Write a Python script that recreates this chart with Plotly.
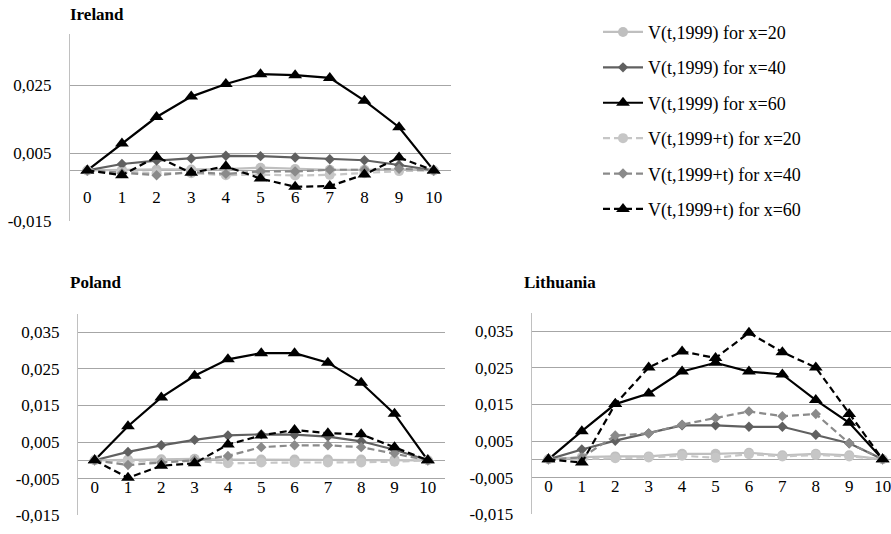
import plotly.graph_objects as go

t = list(range(11))

# Ireland
ie_v20 = [0, 0.0002, 0.0003, 0.0003, 0.0004, 0.0008, 0.0004, 0.0002, 0.0002, 0.0003, 0]
ie_v40 = [0, 0.0019, 0.0029, 0.0035, 0.0043, 0.0042, 0.0038, 0.0033, 0.0030, 0.0016, 0]
ie_v60 = [0, 0.0079, 0.0157, 0.0217, 0.0254, 0.0283, 0.0280, 0.0272, 0.0205, 0.0127, 0]
ie_v20t = [0, -0.0005, -0.0008, -0.0008, -0.0014, -0.0012, -0.0015, -0.0013, -0.0008, -0.0002, 0]
ie_v40t = [0, -0.0008, -0.0014, -0.0005, -0.0010, -0.0003, -0.0003, 0.0002, 0.0002, 0.0005, 0]
ie_v60t = [0, -0.0014, 0.0040, -0.0007, 0.0012, -0.0024, -0.0048, -0.0046, -0.0012, 0.0038, 0]

# Poland
pl_v20 = [0, 0.0002, 0.0003, 0.0004, 0.0002, 0.0002, 0.0002, 0.0002, 0.0002, 0.0002, 0]
pl_v40 = [0, 0.0023, 0.0041, 0.0056, 0.0068, 0.0071, 0.0070, 0.0065, 0.0052, 0.0029, 0]
pl_v60 = [0, 0.0093, 0.0172, 0.0231, 0.0276, 0.0293, 0.0293, 0.0267, 0.0212, 0.0127, 0]
pl_v20t = [0, -0.0003, -0.0003, -0.0002, -0.0008, -0.0006, -0.0006, -0.0006, -0.0006, -0.0004, 0]
pl_v40t = [0, -0.0013, -0.0006, 0.0000, 0.0012, 0.0036, 0.0041, 0.0041, 0.0036, 0.0019, 0]
pl_v60t = [0, -0.0048, -0.0015, -0.0008, 0.0043, 0.0068, 0.0083, 0.0074, 0.0071, 0.0036, 0]

# Lithuania
lt_v20 = [0, 0.0006, 0.0008, 0.0008, 0.0015, 0.0015, 0.0018, 0.0011, 0.0015, 0.0011, 0]
lt_v40 = [0, 0.0027, 0.0051, 0.0071, 0.0093, 0.0093, 0.0089, 0.0089, 0.0067, 0.0044, 0]
lt_v60 = [0, 0.0077, 0.0151, 0.0180, 0.0240, 0.0264, 0.0240, 0.0232, 0.0162, 0.0100, 0]
lt_v20t = [0, 0.0000, 0.0003, 0.0005, 0.0010, 0.0004, 0.0014, 0.0008, 0.0012, 0.0008, 0]
lt_v40t = [0, 0.0005, 0.0065, 0.0071, 0.0095, 0.0113, 0.0131, 0.0118, 0.0124, 0.0044, 0]
lt_v60t = [0, -0.0009, 0.0151, 0.0251, 0.0295, 0.0277, 0.0346, 0.0293, 0.0251, 0.0124, 0]

series_names = ["V(t,1999) for x=20", "V(t,1999) for x=40", "V(t,1999) for x=60",
                "V(t,1999+t) for x=20", "V(t,1999+t) for x=40", "V(t,1999+t) for x=60"]

panel_titles = ["Ireland", "Poland", "Lithuania"]

ie_ytickvals = [-0.015, 0.005, 0.025]
ie_yticktext = ["-0,015", "0,005", "0,025"]
pl_ytickvals = [-0.015, -0.005, 0.005, 0.015, 0.025, 0.035]
pl_yticktext = ["-0,015", "-0,005", "0,005", "0,015", "0,025", "0,035"]

FONT = "'Liberation Serif', 'Times New Roman', 'DejaVu Serif', serif"
W, H = 891, 534

styles = [
    dict(color="#bfbfbf", symbol="circle", size=10, dash="solid"),
    dict(color="#606060", symbol="diamond", size=8, dash="solid"),
    dict(color="#000000", symbol="triangle-up", size=12, dash="solid"),
    dict(color="#c6c6c6", symbol="circle", size=10, dash="7px,4px"),
    dict(color="#8a8a8a", symbol="diamond", size=8, dash="7px,4px"),
    dict(color="#000000", symbol="triangle-up", size=12, dash="7px,4px"),
]

panels = [
    dict(data=[ie_v20, ie_v40, ie_v60, ie_v20t, ie_v40t, ie_v60t],
         px=(70, 451), py=(35, 225.7), xr=[-0.5, 10.5],
         tv=ie_ytickvals, tt=ie_yticktext, title_xy=(68, 15)),
    dict(data=[pl_v20, pl_v40, pl_v60, pl_v20t, pl_v40t, pl_v60t],
         px=(78, 444.5), py=(320, 525), xr=[-0.5, 10.5],
         tv=pl_ytickvals, tt=pl_yticktext, title_xy=(68, 288)),
    dict(data=[lt_v20, lt_v40, lt_v60, lt_v20t, lt_v40t, lt_v60t],
         px=(531.7, 891), py=(319, 524), xr=[-0.5, 10.25],
         tv=pl_ytickvals, tt=pl_yticktext, title_xy=(522, 288)),
]

YMIN, YMAX = -0.015, 0.04
tick_font = dict(family=FONT, size=17, color="black")
fig = go.Figure()
layout = dict(
    width=W, height=H, margin=dict(l=0, r=0, t=0, b=0),
    paper_bgcolor="white", plot_bgcolor="white",
    font=dict(family=FONT, size=17, color="black"),
    showlegend=True,
    legend=dict(x=598 / W, y=1 - 14 / H, xanchor="left", yanchor="top",
                font=dict(family=FONT, size=18, color="black"),
                tracegroupgap=9, itemwidth=40, bgcolor="rgba(0,0,0,0)"),
    annotations=[],
)

for i, p in enumerate(panels):
    sfx = "" if i == 0 else str(i + 1)
    xd = [p["px"][0] / W, min(1.0, p["px"][1] / W)]
    yd = [1 - p["py"][1] / H, 1 - p["py"][0] / H]
    zero_pos = yd[0] + (0 - YMIN) / (YMAX - YMIN) * (yd[1] - yd[0])
    for k, (vals, st) in enumerate(zip(p["data"], styles)):
        fig.add_trace(go.Scatter(
            x=t, y=vals, mode="lines+markers", name=series_names[k],
            legendgroup=series_names[k], showlegend=(i == 0),
            line=dict(color=st["color"], width=2.2, dash=st["dash"]),
            marker=dict(symbol=st["symbol"], size=st["size"], color=st["color"]),
            xaxis="x" + sfx, yaxis="y" + sfx,
        ))
    layout["xaxis" + sfx] = dict(
        domain=xd, range=p["xr"], anchor="free", position=zero_pos,
        tickmode="array", tickvals=t, ticktext=[str(v) for v in t],
        showgrid=False, zeroline=False, showline=False, ticks="",
        ticklabelstandoff=15, tickfont=tick_font, ticklabeloverflow="allow",
        fixedrange=True,
    )
    layout["yaxis" + sfx] = dict(
        domain=yd, range=[YMIN, YMAX], anchor="x" + sfx,
        tickmode="array", tickvals=p["tv"], ticktext=p["tt"],
        showgrid=True, gridcolor="#a6a6a6", gridwidth=1,
        zeroline=True, zerolinecolor="#a6a6a6", zerolinewidth=1,
        showline=True, linecolor="#c0c0c0", linewidth=1, ticks="",
        ticklabelstandoff=14, tickfont=tick_font, fixedrange=True,
    )
    layout["annotations"].append(dict(
        text="<b>" + panel_titles[i] + "</b>", xref="paper", yref="paper",
        x=p["title_xy"][0] / W, y=1 - p["title_xy"][1] / H,
        xanchor="left", yanchor="middle", showarrow=False,
        font=dict(family=FONT, size=17, color="black"),
    ))

fig.update_layout(**layout)
fig.write_html("out.html", config={"displayModeBar": False},
               post_script="document.body.style.margin='0';document.body.style.overflow='hidden';")
